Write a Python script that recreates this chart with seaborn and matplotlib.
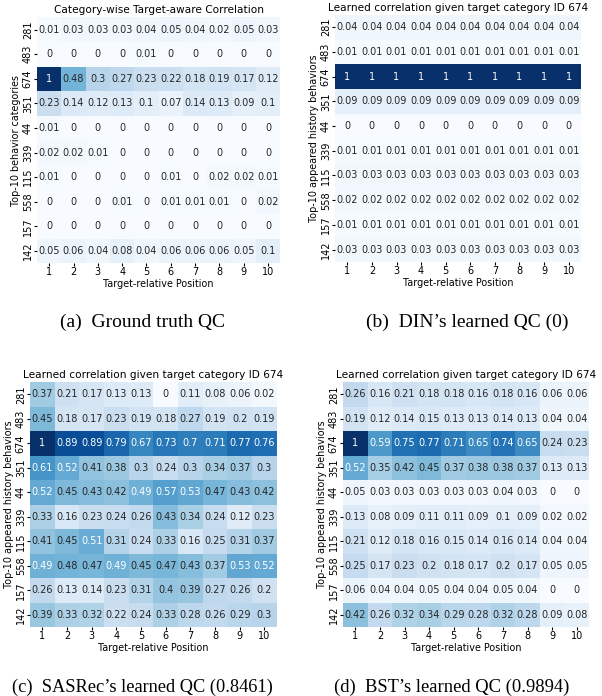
import numpy as np
import pandas as pd
import matplotlib
matplotlib.use("Agg")
import matplotlib.pyplot as plt
import seaborn as sns

# row / column labels shared by all four panels
categories = ["281", "483", "674", "351", "44", "339", "115", "558", "157", "142"]
positions = [1, 2, 3, 4, 5, 6, 7, 8, 9, 10]

# (a) ground truth
gt_qc = [
    [0.01, 0.03, 0.03, 0.03, 0.04, 0.05, 0.04, 0.02, 0.05, 0.03],
    [0, 0, 0, 0, 0.01, 0, 0, 0, 0, 0],
    [1, 0.48, 0.3, 0.27, 0.23, 0.22, 0.18, 0.19, 0.17, 0.12],
    [0.23, 0.14, 0.12, 0.13, 0.1, 0.07, 0.14, 0.13, 0.09, 0.1],
    [0.01, 0, 0, 0, 0, 0, 0, 0, 0, 0],
    [0.02, 0.02, 0.01, 0, 0, 0, 0, 0, 0, 0],
    [0.01, 0, 0, 0, 0, 0.01, 0, 0.02, 0.02, 0.01],
    [0, 0, 0, 0.01, 0, 0.01, 0.01, 0.01, 0, 0.02],
    [0, 0, 0, 0, 0, 0, 0, 0, 0, 0],
    [0.05, 0.06, 0.04, 0.08, 0.04, 0.06, 0.06, 0.06, 0.05, 0.1],
]

# (b) DIN - same value at every position
din_row_values = [0.04, 0.01, 1, 0.09, 0, 0.01, 0.03, 0.02, 0.01, 0.03]
din_qc = [[v] * 10 for v in din_row_values]

# (c) SASRec
sasrec_qc = [
    [0.37, 0.21, 0.17, 0.13, 0.13, 0, 0.11, 0.08, 0.06, 0.02],
    [0.45, 0.18, 0.17, 0.23, 0.19, 0.18, 0.27, 0.19, 0.2, 0.19],
    [1, 0.89, 0.89, 0.79, 0.67, 0.73, 0.7, 0.71, 0.77, 0.76],
    [0.61, 0.52, 0.41, 0.38, 0.3, 0.24, 0.3, 0.34, 0.37, 0.3],
    [0.52, 0.45, 0.43, 0.42, 0.49, 0.57, 0.53, 0.47, 0.43, 0.42],
    [0.33, 0.16, 0.23, 0.24, 0.26, 0.43, 0.34, 0.24, 0.12, 0.23],
    [0.41, 0.45, 0.51, 0.31, 0.24, 0.33, 0.16, 0.25, 0.31, 0.37],
    [0.49, 0.48, 0.47, 0.49, 0.45, 0.47, 0.43, 0.37, 0.53, 0.52],
    [0.26, 0.13, 0.14, 0.23, 0.31, 0.4, 0.39, 0.27, 0.26, 0.2],
    [0.39, 0.33, 0.32, 0.22, 0.24, 0.33, 0.28, 0.26, 0.29, 0.3],
]

# (d) BST
bst_qc = [
    [0.26, 0.16, 0.21, 0.18, 0.18, 0.16, 0.18, 0.16, 0.06, 0.06],
    [0.19, 0.12, 0.14, 0.15, 0.13, 0.13, 0.14, 0.13, 0.04, 0.04],
    [1, 0.59, 0.75, 0.77, 0.71, 0.65, 0.74, 0.65, 0.24, 0.23],
    [0.52, 0.35, 0.42, 0.45, 0.37, 0.38, 0.38, 0.37, 0.13, 0.13],
    [0.05, 0.03, 0.03, 0.03, 0.03, 0.03, 0.04, 0.03, 0, 0],
    [0.13, 0.08, 0.09, 0.11, 0.11, 0.09, 0.1, 0.09, 0.02, 0.02],
    [0.21, 0.12, 0.18, 0.16, 0.15, 0.14, 0.16, 0.14, 0.04, 0.04],
    [0.25, 0.17, 0.23, 0.2, 0.18, 0.17, 0.2, 0.17, 0.05, 0.05],
    [0.06, 0.04, 0.04, 0.05, 0.04, 0.04, 0.05, 0.04, 0, 0],
    [0.42, 0.26, 0.32, 0.34, 0.29, 0.28, 0.32, 0.28, 0.09, 0.08],
]

learned_title = "Learned correlation given target category ID 674"
panels = [
    (gt_qc, "Category-wise Target-aware Correlation", "Top-10 behavior categories",
     "(a)  Ground truth QC", [0.0615, 0.622, 0.404, 0.353], (0.237, 0.537), 14),
    (din_qc, learned_title, "Top-10 appeared history behaviors",
     "(b)  DIN\u2019s learned QC (0)", [0.5565, 0.6236, 0.4086, 0.355], (0.776, 0.537), 14),
    (sasrec_qc, learned_title, "Top-10 appeared history behaviors",
     "(c)  SASRec\u2019s learned QC (0.8461)", [0.0498, 0.0991, 0.41, 0.352], (0.236, 0.013), 13.2),
    (bst_qc, learned_title, "Top-10 appeared history behaviors",
     "(d)  BST\u2019s learned QC (0.9894)", [0.5698, 0.0991, 0.4086, 0.352], (0.751, 0.013), 13.4),
]

fig = plt.figure(figsize=(6.02, 6.96), dpi=100)

for values, title, ylabel, caption, rect, cap_xy, cap_size in panels:
    ax = fig.add_axes(rect)
    df = pd.DataFrame(values, index=categories, columns=positions)
    sns.heatmap(df, ax=ax, cmap="Blues", vmin=0, vmax=1, annot=True, fmt="g",
                cbar=False, annot_kws={"fontsize": 7})
    ax.set_title(title, fontsize=7.6, pad=3)
    ax.set_xlabel("Target-relative Position", fontsize=6.9, labelpad=1)
    ax.set_ylabel(ylabel, fontsize=6.9, labelpad=1)
    ax.tick_params(labelsize=7, length=2, pad=1)
    plt.setp(ax.get_yticklabels(), rotation=90, va="center")
    fig.text(cap_xy[0], cap_xy[1], caption, ha="center", va="center",
             fontsize=cap_size, family="Liberation Serif")

fig.savefig("out.png", dpi=100)
